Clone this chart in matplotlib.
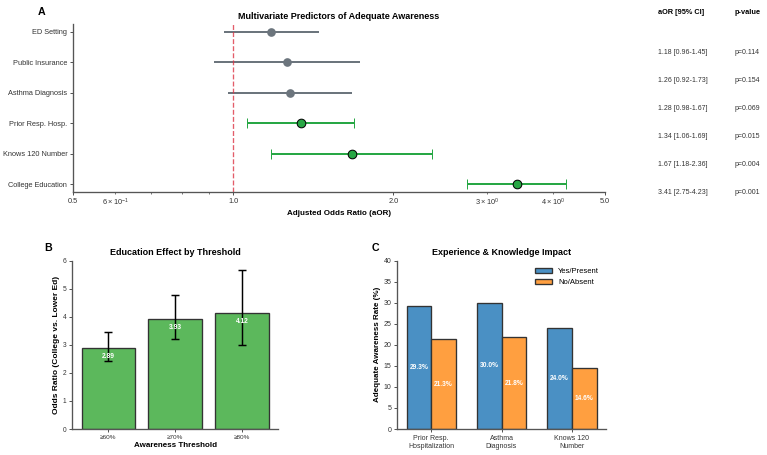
import matplotlib
matplotlib.use('Agg')
import matplotlib.pyplot as plt
import numpy as np

plt.rcParams['font.family'] = ['Liberation Sans', 'DejaVu Sans']
plt.rcParams['axes.edgecolor'] = '#555555'
plt.rcParams['xtick.color'] = '#555555'
plt.rcParams['ytick.color'] = '#555555'
plt.rcParams['xtick.labelcolor'] = '#333333'
plt.rcParams['ytick.labelcolor'] = '#333333'

# panel A data (bottom to top)
predictors = ['College Education', 'Knows 120 Number', 'Prior Resp. Hosp.',
              'Asthma Diagnosis', 'Public Insurance', 'ED Setting']
aor = [3.41, 1.67, 1.34, 1.28, 1.26, 1.18]
ci_low = [2.75, 1.18, 1.06, 0.98, 0.92, 0.96]
ci_high = [4.23, 2.36, 1.69, 1.67, 1.73, 1.45]
pvals = [0.001, 0.004, 0.015, 0.069, 0.154, 0.114]

# panel B data
thresholds = ['≥60%', '≥70%', '≥80%']
edu_or = [2.89, 3.93, 4.12]
edu_low = [2.41, 3.22, 2.98]
edu_high = [3.47, 4.79, 5.68]

# panel C data
factors = ['Prior Resp.\nHospitalization', 'Asthma\nDiagnosis', 'Knows 120\nNumber']
rate_yes = [29.3, 30.0, 24.0]
rate_no = [21.3, 21.8, 14.6]

W, H = 767, 455
fig = plt.figure(figsize=(W / 48, H / 48), dpi=48)

def box(left, top, right, bottom):
    return [left / W, (H - bottom) / H, (right - left) / W, (bottom - top) / H]

gray = '#6c757d'
green = '#28a745'

# ---------- A: forest plot
axA = fig.add_axes(box(73, 24, 605, 192))
y = np.arange(len(predictors))
for i in range(len(predictors)):
    sig = pvals[i] < 0.05
    col = green if sig else gray
    axA.errorbar(aor[i], y[i], xerr=[[aor[i] - ci_low[i]], [ci_high[i] - aor[i]]],
                 fmt='o', color=col, ecolor=col, elinewidth=3, capsize=7.5, capthick=2,
                 markersize=13, markeredgecolor='black' if sig else col,
                 markeredgewidth=1.5 if sig else 0)
axA.axvline(1.0, color='#dc3545', linestyle='--', linewidth=2, alpha=0.8)
axA.set_xscale('log')
axA.set_xlim(0.5, 5.0)
axA.set_xticks([0.5, 1.0, 2.0, 5.0])
axA.set_xticklabels(['0.5', '1.0', '2.0', '5.0'])
axA.set_yticks(y)
axA.set_yticklabels(predictors)
axA.tick_params(labelsize=11, width=1.5, length=5)
axA.tick_params(which='minor', labelsize=11, width=1.2, length=3)
axA.set_xlabel('Adjusted Odds Ratio (aOR)', fontsize=12, fontweight='bold')
axA.set_title('Multivariate Predictors of Adequate Awareness', fontsize=13.5, fontweight='bold', pad=8)
for s in ['top', 'right']:
    axA.spines[s].set_visible(False)
for s in ['left', 'bottom']:
    axA.spines[s].set_linewidth(2)

# side table
fig.text(658 / W, 1 - 12 / H, 'aOR [95% CI]', fontsize=11, fontweight='bold', va='center')
fig.text(735 / W, 1 - 12 / H, 'p-value', fontsize=11, fontweight='bold', va='center')
rows = list(range(len(predictors)))[::-1]
for k, i in enumerate(rows):
    ypix = 52 + k * 28.2
    fig.text(658 / W, 1 - ypix / H, f'{aor[i]:.2f} [{ci_low[i]:.2f}-{ci_high[i]:.2f}]',
             fontsize=10.5, va='center', color='#333333')
    fig.text(735 / W, 1 - ypix / H, f'p={pvals[i]:.3f}', fontsize=10.5, va='center', color='#333333')

fig.text(42 / W, 1 - 12 / H, 'A', fontsize=16, fontweight='bold', ha='center', va='center')

# ---------- B: education by threshold
axB = fig.add_axes(box(72.3, 260.7, 278, 429))
xb = np.arange(len(thresholds))
axB.bar(xb, edu_or, width=0.8, color='#5cb85c', edgecolor='#333333', linewidth=2)
axB.errorbar(xb, edu_or, yerr=[np.array(edu_or) - np.array(edu_low), np.array(edu_high) - np.array(edu_or)],
             fmt='none', ecolor='black', elinewidth=2.2, capsize=6, capthick=2.2)
for xi, v in zip(xb, edu_or):
    axB.text(xi, v - 0.3, f'{v:.2f}', ha='center', va='center', color='white',
             fontsize=10, fontweight='bold')
axB.set_ylim(0, 6)
axB.set_xticks(xb)
axB.set_xticklabels(thresholds)
axB.tick_params(labelsize=10, width=1.5, length=5)
axB.tick_params(axis='x', labelsize=9.5)
axB.set_xlabel('Awareness Threshold', fontsize=12, fontweight='bold', labelpad=3)
axB.set_ylabel('Odds Ratio (College vs. Lower Ed)', fontsize=12.5, fontweight='bold')
axB.set_title('Education Effect by Threshold', fontsize=13.5, fontweight='bold', pad=8)
for s in ['top', 'right']:
    axB.spines[s].set_visible(False)
for s in ['left', 'bottom']:
    axB.spines[s].set_linewidth(2)
fig.text(48 / W, 1 - 248 / H, 'B', fontsize=16, fontweight='bold', ha='center', va='center')

# ---------- C: experience & knowledge
axC = fig.add_axes(box(397, 260.7, 606, 429))
xc = np.arange(len(factors))
w = 0.35
b1 = axC.bar(xc - w / 2, rate_yes, w, color='#4a90c4', edgecolor='#333333', linewidth=2, label='Yes/Present')
b2 = axC.bar(xc + w / 2, rate_no, w, color='#ff9f40', edgecolor='#333333', linewidth=2, label='No/Absent')
for bars in (b1, b2):
    for b in bars:
        h = b.get_height()
        axC.text(b.get_x() + b.get_width() / 2, h / 2, f'{h:.1f}%', ha='center', va='center',
                 color='white', fontsize=10, fontweight='bold')
axC.set_ylim(0, 40)
axC.set_xticks(xc)
axC.set_xticklabels(factors)
axC.tick_params(labelsize=10.5, width=1.5, length=5)
axC.set_ylabel('Adequate Awareness Rate (%)', fontsize=12, fontweight='bold')
axC.set_title('Experience & Knowledge Impact', fontsize=13.5, fontweight='bold', pad=8)
axC.legend(loc='upper right', frameon=False, fontsize=11.5, handlelength=2.2)
for s in ['top', 'right']:
    axC.spines[s].set_visible(False)
for s in ['left', 'bottom']:
    axC.spines[s].set_linewidth(2)
fig.text(375 / W, 1 - 248 / H, 'C', fontsize=16, fontweight='bold', ha='center', va='center')

fig.savefig('out.png', dpi=48)
